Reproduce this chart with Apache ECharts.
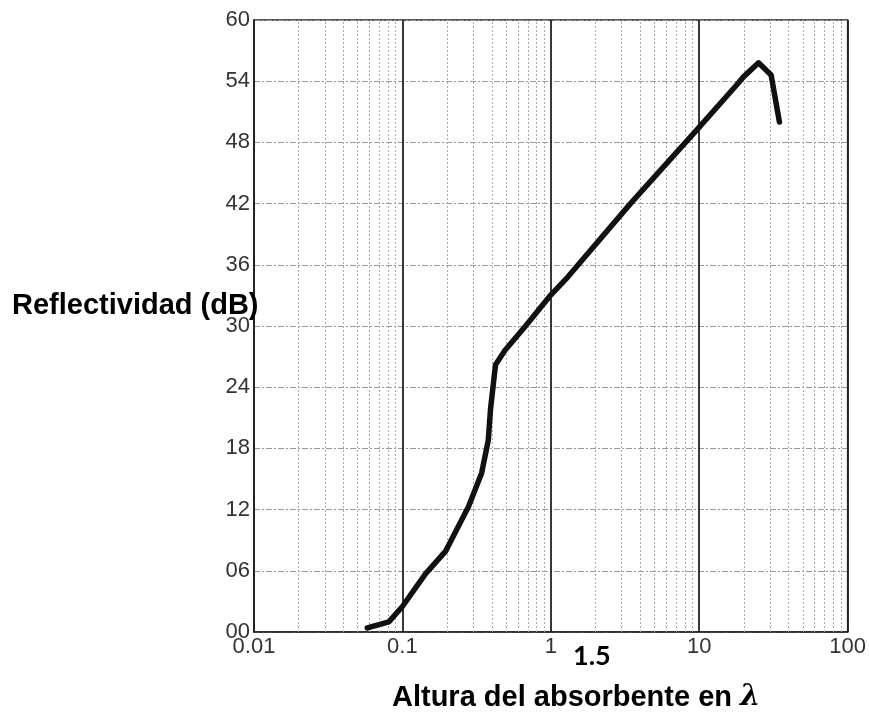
<!DOCTYPE html>
<html>
<head>
<meta charset="utf-8">
<script src="https://cdn.jsdelivr.net/npm/echarts@6/dist/echarts.min.js"></script>
<style>
  html, body { margin: 0; padding: 0; background: #fff; }
  #chart { width: 869px; height: 715px; }
</style>
</head>
<body>
<div id="chart"></div>
<script>
// altura del absorbente (en longitudes de onda) y reflectividad
var alturaX = [0.058, 0.081, 0.1, 0.143, 0.195, 0.279, 0.342, 0.379, 0.392, 0.424, 0.49, 0.667, 0.98, 1.3, 3.44, 9.6, 17.8, 19.8, 25.1, 30.5, 34.7];
var reflectY = [0.4, 1.0, 2.5, 5.7, 7.9, 12.3, 15.6, 18.8, 21.8, 26.2, 27.6, 29.9, 32.9, 34.8, 42.0, 49.2, 53.6, 54.4, 55.8, 54.6, 50.0];
// rejilla logarítmica menor (2..9 de cada década)
var menoresX = [0.02, 0.03, 0.04, 0.05, 0.06, 0.07, 0.08, 0.09,
                0.2, 0.3, 0.4, 0.5, 0.6, 0.7, 0.8, 0.9,
                2, 3, 4, 5, 6, 7, 8, 9,
                20, 30, 40, 50, 60, 70, 80, 90];
var etiquetaExtra = '1.5';

var chart = echarts.init(document.getElementById('chart'));

var option = {
  backgroundColor: '#fff',
  animation: false,
  grid: {
    left: 254, top: 20, right: 15, bottom: 83,
    show: true,
    borderColor: '#222',
    borderWidth: 1.5,
    backgroundColor: 'transparent'
  },
  xAxis: {
    type: 'log',
    logBase: 10,
    min: 0.01,
    max: 100,
    axisLine: { show: true, lineStyle: { color: '#222', width: 1.5 } },
    axisTick: { show: false },
    axisLabel: {
      color: '#333',
      fontFamily: 'Liberation Sans, Arial',
      fontSize: 22,
      margin: 4,
      formatter: function (v) { return String(+Number(v).toPrecision(3)); }
    },
    splitLine: { show: true, lineStyle: { color: '#222', width: 1.8 } }
  },
  yAxis: {
    type: 'value',
    min: 0,
    max: 60,
    interval: 6,
    axisLine: { show: true, lineStyle: { color: '#222', width: 1.5 } },
    axisTick: { show: false },
    axisLabel: {
      color: '#333',
      fontFamily: 'Liberation Sans, Arial',
      fontSize: 22,
      margin: 4,
      formatter: function (v) { return (v < 10 ? '0' : '') + v; }
    },
    splitLine: { show: true, lineStyle: { color: '#999', width: 1, type: [6, 2, 2, 2] } }
  },
  series: [{
    type: 'line',
    data: alturaX.map(function (x, i) { return [x, reflectY[i]]; }),
    showSymbol: false,
    lineStyle: { color: '#111', width: 5.5, cap: 'round', join: 'round' },
    z: 5,
    markLine: {
      silent: true,
      symbol: 'none',
      label: { show: false },
      lineStyle: { color: '#aaa', width: 1, type: [2, 2] },
      data: menoresX.map(function (v) { return { xAxis: v }; })
    }
  }],
  graphic: [
    {
      type: 'text',
      left: 12,
      top: 291,
      style: {
        text: 'Reflectividad (dB)',
        font: 'bold 29px "Liberation Sans", Arial',
        fill: '#000'
      },
      z: 10
    },
    {
      type: 'text',
      left: 573,
      top: 643,
      style: {
        text: etiquetaExtra,
        font: 'bold 27px Lato, "Open Sans"',
        fill: '#000'
      }
    },
    {
      type: 'text',
      left: 392,
      top: 683,
      style: {
        text: '{n|Altura del absorbente en }{i|λ}',
        rich: {
          n: { font: 'bold 29px "Liberation Sans", Arial', fill: '#000' },
          i: { font: 'italic bold 29px "DejaVu Serif"', fill: '#000' }
        }
      }
    }
  ]
};

chart.setOption(option);
</script>
</body>
</html>
